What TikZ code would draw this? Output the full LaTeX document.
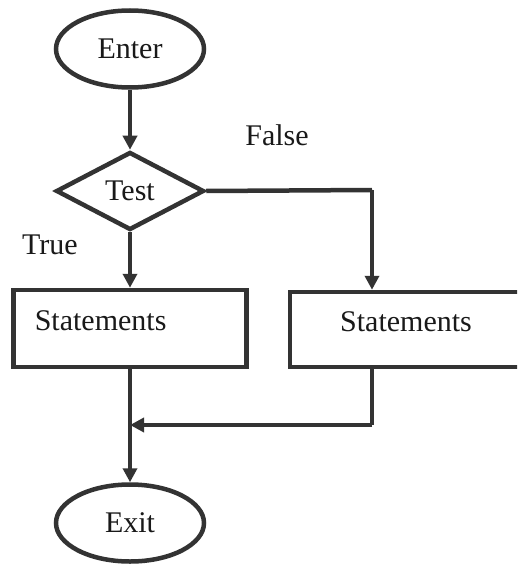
\documentclass[tikz,border=0pt]{standalone}
\usepackage{fontspec}
\setmainfont{Liberation Serif}
\usetikzlibrary{shapes.geometric,arrows.meta}
\begin{document}
\begin{tikzpicture}[x=1pt,y=-1pt,
  every node/.style={font=\rmfamily\fontsize{30}{33}\selectfont, text=black!90},
  term/.style={ellipse, draw=black!80, line width=4.5pt, minimum width=148pt, minimum height=77pt, inner sep=0pt},
  decide/.style={diamond, draw=black!80, line width=4.5pt, minimum width=148pt, minimum height=78pt, inner sep=0pt},
  stmt/.style={rectangle, draw=black!80, line width=4.5pt, inner sep=0pt},
  flow/.style={draw=black!80, line width=4.5pt, -{Triangle[length=14pt,width=14pt]}},
  link/.style={draw=black!80, line width=4.5pt}]
\clip (0,0) rectangle (517,564);
\fill[white] (0,0) rectangle (517,564);
\node[term] (enter) at (130,49) {Enter};
\node[decide] (test) at (130,191) {Test};
\node[stmt, minimum width=233pt, minimum height=77pt] (s1) at (130,328.5) {};
\node[anchor=west] (t1) at ([xshift=20pt,yshift=8pt]s1.west) {Statements};
\node[stmt, minimum width=240pt, minimum height=75pt] (s2) at (410,329.5) {};
\node (t2) at (406,322) {Statements};
\node[term] (exit) at (130,523) {Exit};
\node (false) at (277,135) {False};
\node (true) at (50,245) {True};
\coordinate (r) at (372,190);
\coordinate (j) at (372,425);
\draw[flow] (enter) -- (test);
\draw[flow] (test) -- (s1);
\draw[link] (test.east) -- (r);
\draw[flow] (r) -- (r |- s2.north);
\draw[flow] (s1) -- (exit);
\draw[link] (j |- s2.south) -- (j);
\draw[flow] (j) -- (j -| s1.south);
\end{tikzpicture}
\end{document}
